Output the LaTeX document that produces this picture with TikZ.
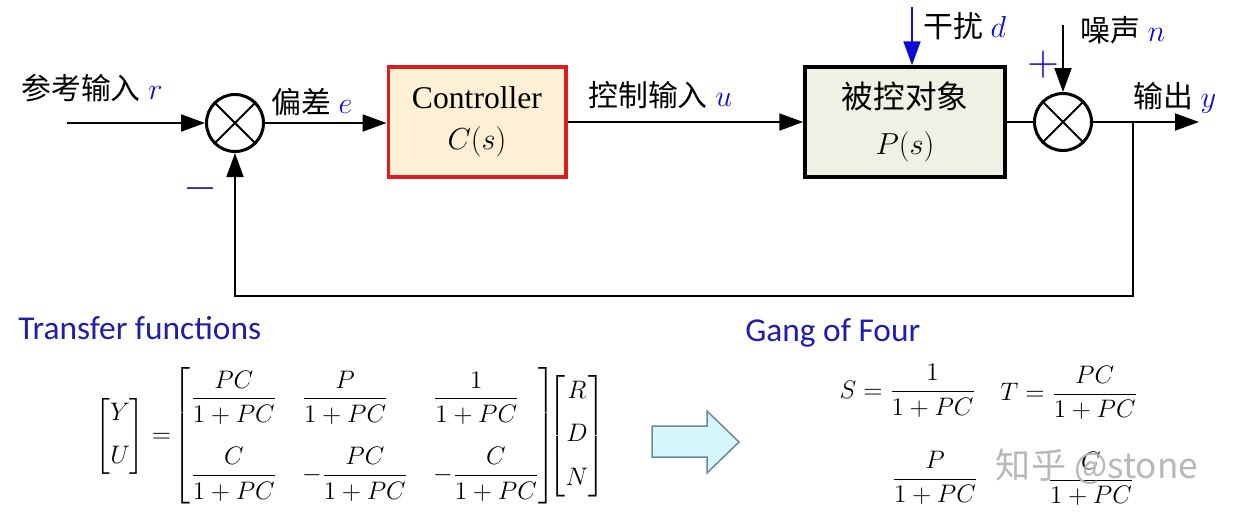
\documentclass[tikz,border=0pt]{standalone}
\usepackage{mathtools}
\usepackage[no-math]{fontspec}
\setmainfont{Liberation Serif}
\newfontfamily\cjk{Noto Sans CJK SC}
\newfontfamily\sansft{Carlito}
\usepackage{tikz}
\usetikzlibrary{arrows.meta}

\definecolor{hdblue}{RGB}{30,30,170}
\definecolor{sigblue}{RGB}{10,10,215}
\definecolor{ctrlred}{RGB}{220,30,30}
\definecolor{ctrlfill}{RGB}{253,240,212}
\definecolor{plantfill}{RGB}{238,241,228}
\definecolor{arrfill}{RGB}{214,247,250}
\definecolor{arredge}{RGB}{105,135,165}

\begin{document}
\begin{tikzpicture}[
    x=0.2mm,
    y=-0.2mm,
    blk/.style={draw, line width=0.7mm, minimum width=3.55cm, minimum height=2.2cm,
      align=center, font=\fontsize{18}{23}\selectfont},
    sumnd/.style={draw, circle, line width=0.6mm, minimum size=1.14cm, inner sep=0pt},
    sig/.style={line width=0.4mm, -{Triangle[length=4.8mm, width=3.4mm]}},
    lbl/.style={anchor=west, inner sep=0pt, font=\fontsize{17}{20}\selectfont},
    hd/.style={anchor=west, inner sep=0pt, text=hdblue, font=\sansft\fontsize{19}{22}\selectfont},
    eq/.style={inner sep=0pt, font=\fontsize{14}{17}\selectfont},
  ]
  \useasboundingbox (0,0) rectangle (1238,517);

  % loop
  \node[sumnd] (s1) at (235,123) {};
  \draw[line width=0.4mm] (s1.north west) -- (s1.south east) (s1.north east) -- (s1.south west);
  \node[blk, draw=ctrlred, fill=ctrlfill] (ctrl) at (477,122) {Controller\\$C(s)$};
  \node[blk, fill=plantfill, minimum width=4cm, font=\fontsize{18}{26}\selectfont] (plant) at (905,122)
    {{\cjk 被控对象}\\$P(s)$};
  \node[sumnd] (s2) at (1063,122) {};
  \draw[line width=0.4mm] (s2.north west) -- (s2.south east) (s2.north east) -- (s2.south west);

  \coordinate (rin) at (67,123);
  \coordinate (din) at (912,7);
  \coordinate (nin) at (1063,25);
  \coordinate (br) at (1133,122);
  \coordinate (yout) at (1199,122);

  \draw[sig] (rin) -- (s1.west);
  \draw[sig] (s1.east) -- (s1.east -| ctrl.west);
  \draw[sig] (ctrl.east) -- (plant.west);
  \draw[line width=0.4mm] (plant.east) -- (s2.west);
  \draw[sig] (s2.east) -- (yout);
  \draw[sig, sigblue] (din) -- (din |- plant.north);
  \draw[sig] (nin) -- (s2.north);
  \draw[sig, line width=0.3mm] (br) -- ++(0,174) -| (s1.south);

  % labels
  \node[lbl] (lr) at (21,88) {{\cjk 参考输入} \textcolor{sigblue}{$r$}};
  \node[lbl] (le) at (271,102) {{\cjk 偏差} \textcolor{sigblue}{$e$}};
  \node[lbl] (lu) at (588,95) {{\cjk 控制输入} \textcolor{sigblue}{$u$}};
  \node[lbl] (ld) at (923,26) {{\cjk 干扰} \textcolor{sigblue}{$d$}};
  \node[lbl] (ln) at (1080,30) {{\cjk 噪声} \textcolor{sigblue}{$n$}};
  \node[lbl] (ly) at (1133,98) {{\cjk 输出} \textcolor{sigblue}{$y$}};
  \node[inner sep=0pt, text=sigblue, font=\fontsize{26}{26}\selectfont] (plus) at (1043,65) {$+$};
  \node[inner sep=0pt, text=hdblue, font=\fontsize{26}{26}\selectfont] (minus) at (201,189) {$-$};

  % transfer functions
  \node[hd] (tfh) at (18,328) {Transfer functions};
  \node[eq, anchor=west] (tf) at (95,436) {$\begin{bmatrix} Y\\[7pt] U\end{bmatrix}
    \mkern2mu{=}\mkern2mu{\setlength{\arraycolsep}{7.2pt}\begin{bmatrix*}[l]
      \dfrac{PC}{1+PC} & \dfrac{P}{1+PC} & \dfrac{1}{1+PC}\\[19pt]
      \dfrac{C}{1+PC} & -\dfrac{PC}{1+PC} & -\dfrac{C}{1+PC}
    \end{bmatrix*}}\mkern-8mu\begin{bmatrix} R\\[8pt] D\\[8pt] N\end{bmatrix}$};

  \draw[fill=arrfill, draw=arredge, line width=0.3mm] (652,426) -- (707,426) -- (707,411)
    -- (739,442) -- (707,473) -- (707,457) -- (652,457) -- cycle;

  % gang of four
  \node[hd] (gh) at (745,333) {Gang of Four};
  \node[eq, anchor=east] (gs) at (976,391) {$S=\dfrac{1}{1+PC}$};
  \node[eq, anchor=west] (gt) at (1000,393) {$T=\dfrac{PC}{1+PC}$};
  \node[eq] (gp) at (935,478) {$\dfrac{P}{1+PC}$};
  \node[eq] (gc) at (1091,479) {$\dfrac{C}{1+PC}$};

  \node[inner sep=0pt, text=black!28, font=\cjk\fontsize{20}{24}\selectfont] (wm) at (1097,467) {知乎 @stone};
\end{tikzpicture}
\end{document}
